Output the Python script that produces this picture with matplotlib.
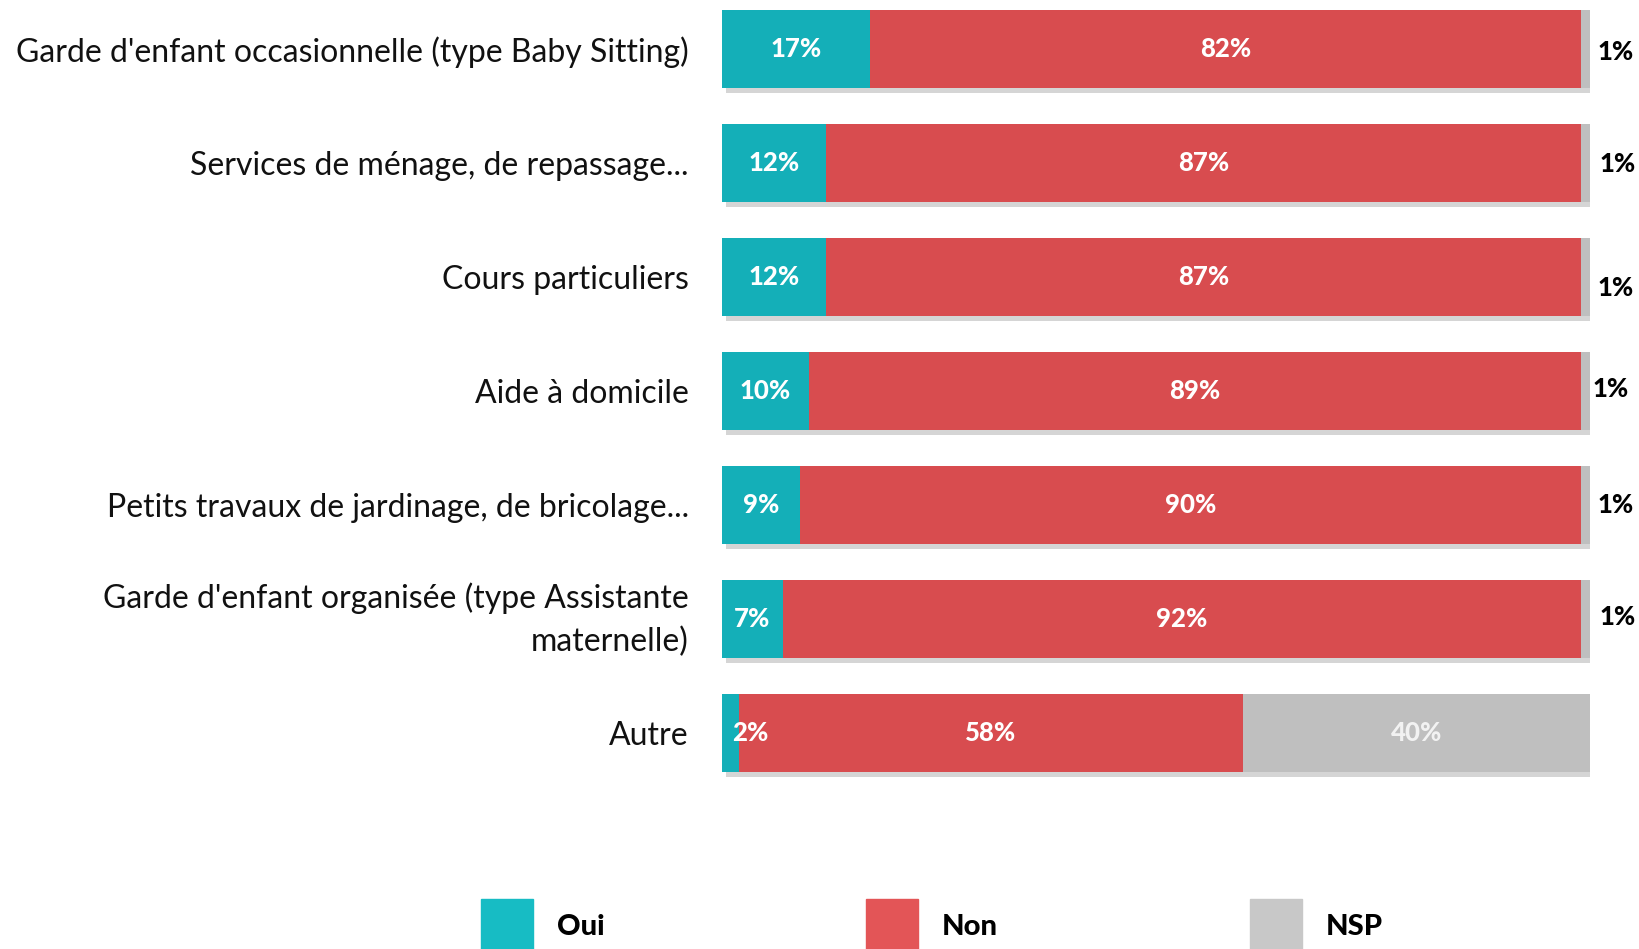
import matplotlib.pyplot as plt
import matplotlib.patheffects as pe
import matplotlib.transforms as mtransforms
from matplotlib.patches import Rectangle
import numpy as np

plt.rcParams['font.family'] = ['Lato', 'DejaVu Sans']

categories = [
    "Garde d'enfant occasionnelle (type Baby Sitting)",
    "Services de ménage, de repassage...",
    "Cours particuliers",
    "Aide à domicile",
    "Petits travaux de jardinage, de bricolage...",
    "Garde d'enfant organisée (type Assistante\nmaternelle)",
    "Autre",
]
oui = [17, 12, 12, 10, 9, 7, 2]
non = [82, 87, 87, 89, 90, 92, 58]
nsp = [1, 1, 1, 1, 1, 1, 40]
legend_labels = ['Oui', 'Non', 'NSP']

c_oui, c_non, c_nsp = '#14AFB8', '#D84C4F', '#BFBFBF'
leg_colors = ['#17BCC4', '#E35557', '#C8C8C8']

W, H = 1640, 949
fig = plt.figure(figsize=(W / 100, H / 100), dpi=100)
ax = fig.add_axes([722 / W, 0, 868 / W, 1])

y = np.arange(len(categories))
shadow = [pe.SimplePatchShadow(offset=(3, -4), shadow_rgbFace='#777777', alpha=0.3), pe.Normal()]
left = np.zeros(len(y))
for vals, col in [(oui, c_oui), (non, c_non), (nsp, c_nsp)]:
    bars = ax.barh(y, vals, left=left, height=0.68, color=col, edgecolor='none')
    for b in bars:
        b.set_path_effects(shadow)
    left = left + np.array(vals)

# labels inside bars
for i in y:
    ax.text(max(oui[i] / 2, 3.3), i, f'{oui[i]}%', ha='center', va='center',
            color='white', fontsize=18.5, fontweight='black')
    ax.text(oui[i] + non[i] / 2, i, f'{non[i]}%', ha='center', va='center',
            color='white', fontsize=18.5, fontweight='black')
    if nsp[i] >= 5:
        ax.text(oui[i] + non[i] + nsp[i] / 2, i, f'{nsp[i]}%', ha='center', va='center',
                color='#F2F2F2', fontsize=18.5, fontweight='black')
    else:
        dx = [3.0, 3.2, 3.0, 2.4, 3.0, 3.2][i]
        dy = [0.03, 0.01, 0.1, -0.02, 0.0, -0.02][i]
        ax.text(100 + dx, i + dy, f'{nsp[i]}%', ha='center', va='center',
                color='black', fontsize=18.5, fontweight='black')

ax.set_xlim(0, 100)
ax.set_ylim((H - 49) / 114, -49 / 114)
ax.set_yticks(y)
ax.set_yticklabels(categories, fontsize=23, color='#111111', linespacing=1.5)
ax.tick_params(axis='y', length=0, pad=24)
ax.set_xticks([])
for s in ax.spines.values():
    s.set_visible(False)

# the two-line label sits a little higher
for lab in ax.get_yticklabels():
    if '\n' in lab.get_text():
        lab.set_transform(lab.get_transform() +
                          mtransforms.ScaledTranslation(0, 6 / 72, fig.dpi_scale_trans))

# legend (cut off by the bottom edge as in the original)
leg_x = [481, 866, 1250]
for x0, lab, col in zip(leg_x, legend_labels, leg_colors):
    fig.add_artist(Rectangle((x0 / W, -30 / H), 52 / W, 80 / H,
                             transform=fig.transFigure, color=col))
    fig.text((x0 + 76) / W, 1 - 927 / H, lab, ha='left', va='center',
             fontsize=21, fontweight='black', color='black')

fig.savefig('out.png', dpi=100)
